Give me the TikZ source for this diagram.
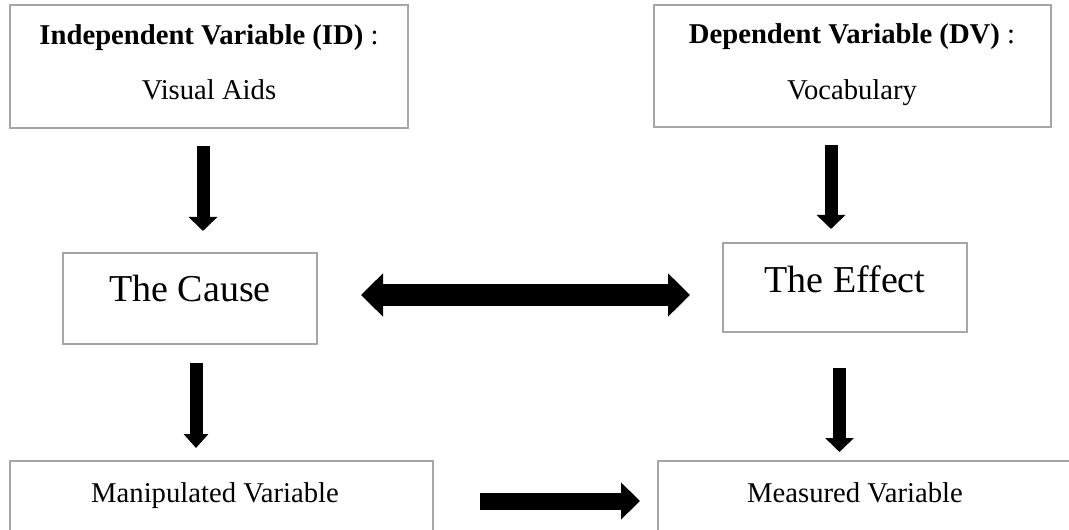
\documentclass[tikz,border=0pt]{standalone}
\usepackage{fontspec}
\setmainfont{Liberation Serif}
\usetikzlibrary{arrows.meta,calc}
\definecolor{boxgray}{RGB}{166,166,166}
\begin{document}
\begin{tikzpicture}[x=0.75pt,y=-0.75pt,
  box/.style={draw=boxgray,line width=1.5pt,rectangle,inner sep=0pt,fill=white},
  small/.style={font=\fontsize{21.5}{26}\selectfont,inner sep=0pt,anchor=base},
  big/.style={font=\fontsize{28.5}{34}\selectfont,inner sep=0pt,anchor=base},
  vblk/.style={line width=9.75pt,-{Triangle[width=21pt,length=10.5pt]}},
  dblk/.style={line width=16.5pt,{Triangle[width=31.5pt,length=16.5pt]}-{Triangle[width=31.5pt,length=16.5pt]}},
  hblk/.style={line width=12.75pt,-{Triangle[width=27pt,length=14.25pt]}}]
\useasboundingbox (0,0) rectangle (1069,530);
% boxes
\node[box,minimum width=298.5pt,minimum height=92.25pt] (id) at (209,66.5) {};
\node[box,minimum width=297.75pt,minimum height=91.5pt] (dv) at (852.5,66) {};
\node[box,minimum width=190.5pt,minimum height=68.25pt] (cause) at (190,298.5) {};
\node[box,minimum width=183pt,minimum height=66.75pt] (effect) at (845,287.5) {};
\node[box,minimum width=317.25pt,minimum height=74.25pt] (manip) at (221.5,510.5) {};
\node[box,minimum width=316.5pt,minimum height=74.25pt] (meas) at (869,510.5) {};
% texts
\node[small] (idt1) at (209,45) {\textbf{Independent Variable (ID)} :};
\node[small] (idt2) at (209,100) {Visual Aids};
\node[small] (dvt1) at (852,44) {\textbf{Dependent Variable (DV)} :};
\node[small] (dvt2) at (852,100) {Vocabulary};
\node[big] (causet) at (190,302) {The Cause};
\node[big] (effectt) at (845,293) {The Effect};
\node[small] (manipt) at (215,502) {Manipulated Variable};
\node[small] (meast) at (855,502) {Measured Variable};
% arrow axes
\coordinate (ax1) at (203,0);
\coordinate (ax2) at (831,0);
\coordinate (ax3) at (196,0);
\coordinate (ax4) at (839.5,0);
\coordinate (ay1) at (0,295);
\coordinate (ay2) at (0,501);
% connectors
\draw[vblk,shorten <=12.75pt,shorten >=15.75pt] (id.south -| ax1) -- (cause.north -| ax1);
\draw[vblk,shorten <=12.75pt,shorten >=9.75pt] (dv.south -| ax2) -- (effect.north -| ax2);
\draw[vblk,-{Triangle[width=18pt,length=10.5pt]},shorten <=13.5pt,shorten >=9pt] (cause.south -| ax3) -- (manip.north -| ax3);
\draw[vblk,shorten <=26.25pt,shorten >=6pt] (effect.south -| ax4) -- (meas.north -| ax4);
\draw[dblk,shorten <=32.25pt,shorten >=24pt] (cause.east |- ay1) -- (effect.west |- ay1);
\draw[hblk,shorten <=34.5pt,shorten >=12.75pt] (manip.east |- ay2) -- (meas.west |- ay2);
\end{tikzpicture}
\end{document}
